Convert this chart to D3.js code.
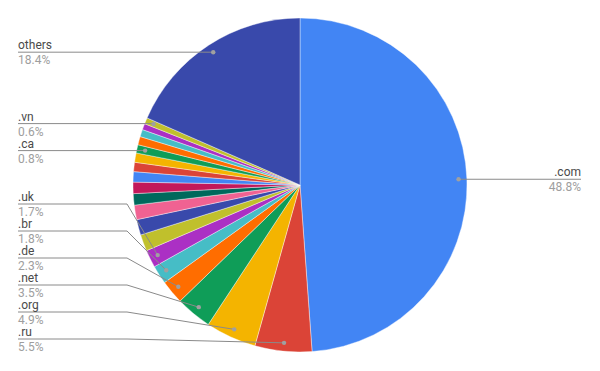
<!DOCTYPE html>
<html>
<head>
<meta charset="utf-8">
<script src="https://cdn.jsdelivr.net/npm/d3@7"></script>
<style>
  html, body { margin: 0; padding: 0; background: #fff; }
  svg { display: block; font-family: Roboto, "Noto Sans", Arial, sans-serif; }
</style>
</head>
<body>
<svg id="chart" width="600" height="371"></svg>
<script>
// ---- data (unlabeled slices have no visible name) ----
const categories = [".com", ".ru", ".org", ".net", ".de", ".br", ".uk",
  "", "", "", "", "", "", "", "", ".ca", "", "", "", ".vn", "others"];
const shares = [48.8, 5.5, 4.9, 3.5, 2.3, 1.8, 1.7,
  1.6, 1.5, 1.4, 1.1, 1.1, 1.0, 0.9, 0.9, 0.8, 0.8, 0.7, 0.6, 0.6, 18.4];
const palette = ["#4285f4", "#db4437", "#f4b400", "#0f9d58", "#ff6d00", "#46bdc6",
  "#ab30c4", "#c0c02c", "#3949ab", "#f06292", "#00695c", "#c2185b"];

const data = categories.map((c, i) => ({ name: c, value: shares[i], idx: i }));

const W = 600, H = 371;
const cx = 300, cy = 185, R = 167;
const svg = d3.select("#chart");

const pie = d3.pie().sort(null).value(d => d.value);
const arcs = pie(data);
const arc = d3.arc().innerRadius(0).outerRadius(R);
const dotArc = d3.arc().innerRadius(R * 0.95).outerRadius(R * 0.95);
const color = d3.scaleOrdinal().domain(d3.range(palette.length)).range(palette);

const g = svg.append("g").attr("transform", `translate(${cx},${cy})`);
g.selectAll("path.slice").data(arcs).join("path")
  .attr("class", "slice")
  .attr("d", arc)
  .attr("fill", d => color(d.data.idx % palette.length))
  .attr("stroke", "#fff")
  .attr("stroke-width", 0.4);

// ---- labels ----
const labeled = arcs.filter(d => d.data.name !== "");
const items = labeled.map(d => {
  const [x, y] = dotArc.centroid(d);
  return { d, dx: cx + x, dy: cy + y, right: x > 0 };
});

// left side: resolve collisions from the bottom up
const left = items.filter(it => !it.right).sort((a, b) => b.dy - a.dy);
const maxY = 339, gap = 27;
let prev = Infinity;
left.forEach(it => {
  it.ly = Math.min(it.dy, maxY, prev - gap);
  prev = it.ly;
});
items.filter(it => it.right).forEach(it => { it.ly = it.dy; });

const lineColor = "#8a8a8a";
const nameColor = "#4a4a4a";
const pctColor = "#9e9e9e";
const fmt = v => v.toFixed(1) + "%";

items.forEach(it => {
  const lg = svg.append("g");
  if (!it.right) {
    const x0 = 18;
    const bendX = Math.min(it.dx, 127);
    const pts = Math.abs(it.ly - it.dy) < 1.5
      ? [[x0, it.ly], [it.dx, it.ly]]
      : [[x0, it.ly], [bendX, it.ly], [it.dx, it.dy]];
    lg.append("path")
      .attr("d", d3.line()(pts))
      .attr("fill", "none").attr("stroke", lineColor).attr("stroke-width", 1);
    lg.append("text").attr("x", x0).attr("y", it.ly - 3)
      .attr("font-size", 12).attr("fill", nameColor).text(it.d.data.name);
    lg.append("text").attr("x", x0).attr("y", it.ly + 12)
      .attr("font-size", 12).attr("fill", pctColor).text(fmt(it.d.data.value));
  } else {
    const x1 = 581;
    lg.append("path")
      .attr("d", d3.line()([[it.dx, it.ly], [x1, it.ly]]))
      .attr("fill", "none").attr("stroke", lineColor).attr("stroke-width", 1);
    lg.append("text").attr("x", x1).attr("y", it.ly - 3).attr("text-anchor", "end")
      .attr("font-size", 12).attr("fill", nameColor).text(it.d.data.name);
    lg.append("text").attr("x", x1).attr("y", it.ly + 12).attr("text-anchor", "end")
      .attr("font-size", 12).attr("fill", pctColor).text(fmt(it.d.data.value));
  }
  lg.append("circle").attr("cx", it.dx).attr("cy", it.dy).attr("r", 2.2)
    .attr("fill", "#a0a0a0");
});
</script>
</body>
</html>
